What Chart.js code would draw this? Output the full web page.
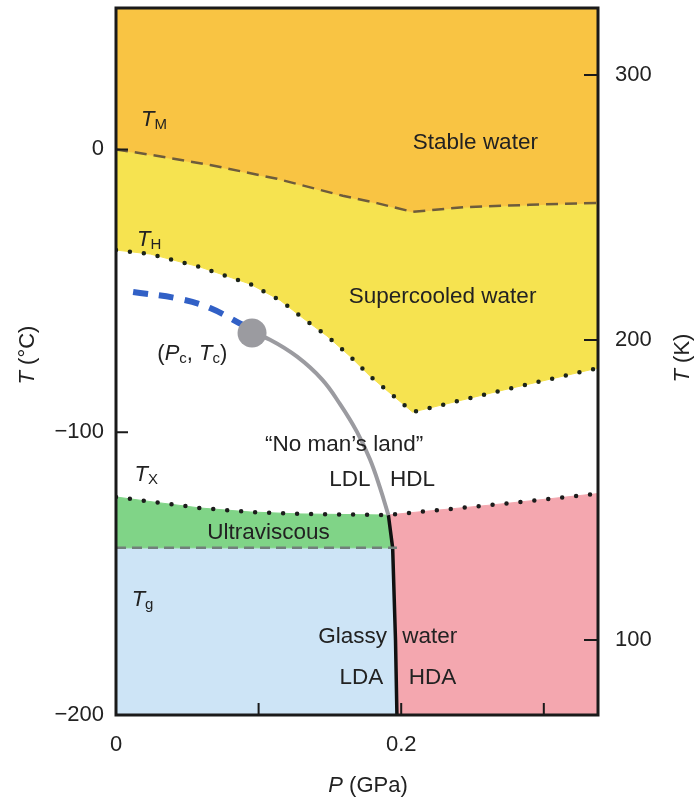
<!DOCTYPE html>
<html>
<head>
<meta charset="utf-8">
<script src="https://cdn.jsdelivr.net/npm/chart.js@4.4.1/dist/chart.umd.min.js"></script>
<style>
  html, body { margin: 0; padding: 0; background: #fff; }
  #wrap { width: 695px; height: 799px; position: relative; }
</style>
</head>
<body>
<div id="wrap"><canvas id="phaseChart"></canvas></div>
<script>
// Axis limits and tick labels
const pressureRange = [0, 0.338];          // GPa
const celsiusRange = [-200, 50];           // °C
const pressureTicks = [0, 0.1, 0.2, 0.3];
const pressureLabels = ['0', '', '0.2', ''];
const celsiusTicks = [-200, -100, 0];
const kelvinLabels = ['300', '200', '100'];
const kelvinTickAt = [26.3, -67.4, -173.5]; // °C where the figure puts the K ticks

// Boundaries, as [P (GPa), T (°C)]
const meltingLine = [[0, 0], [0.024, -1.9], [0.066, -5.5], [0.113, -10.4], [0.159, -16.4], [0.183, -19],
    [0.208, -22.1], [0.244, -20.4], [0.29, -19.6], [0.338, -18.9]];
const homogeneousLine = [[0, -35.6], [0.024, -37], [0.059, -41.6], [0.094, -47.6], [0.115, -53.3], [0.131, -59.6],
    [0.148, -66], [0.164, -73.1], [0.178, -80.1], [0.192, -86.1], [0.208, -92.9], [0.269, -85.4], [0.338, -77.3]];
const crystalLeft = [[0, -122.9], [0.031, -125], [0.059, -126.8], [0.094, -128.2], [0.129, -128.9], [0.191, -129.3]];
const crystalRight = [[0.191, -129.3], [0.204, -128.6], [0.264, -125.7], [0.338, -121.7]];
const glassLine = [[0, -140.9], [0.197, -140.9]];
const ldaHdaLine = [[0.191, -129.3], [0.194, -140.9], [0.196, -173.5], [0.197, -200]];
const widomLine = [[0.012, -50.4], [0.045, -52.9], [0.066, -56.1], [0.089, -62.1]];
const llptLine = [[0.0954, -64.9], [0.108, -67.3], [0.127, -73.3], [0.1446, -81.4], [0.157, -90],
    [0.169, -99.9], [0.178, -109.5], [0.185, -119.4], [0.191, -129.3]];
const criticalPoint = [[0.0954, -64.9]];

// Text placed in the diagram, [P, T] of the label centre
const regionLabels = [
    ['Stable water', 0.252, 2.3],
    ['Supercooled water', 0.229, -52.2],
    ['\u201CNo man\u2019s land\u201D', 0.160, -104.5],
    ['LDL', 0.164, -116.9],
    ['HDL', 0.208, -116.9],
    ['Ultraviscous', 0.107, -135.6],
    ['Glassy', 0.166, -172.4],
    ['water', 0.220, -172.4],
    ['LDA', 0.172, -186.9],
    ['HDA', 0.222, -186.9]
];
// symbols, [parts, P of left edge, T of centre]; 'i' italic, 's' subscript
const symbolLabels = [
    [[['T', 'i'], ['M', 's']], 0.0175, 11.1],
    [[['T', 'i'], ['H', 's']], 0.0147, -31.3],
    [[['T', 'i'], ['X', 's']], 0.013, -114.4],
    [[['T', 'i'], ['g', 's']], 0.011, -158.6],
    [[['(', ''], ['P', 'i'], ['c', 's'], [', ', ''], ['T', 'i'], ['c', 's'], [')', '']], 0.029, -71.6]
];

const FONT = '"Liberation Sans", Arial, Helvetica, sans-serif';
const TEXT = '#222';

const toXY = function(arr) {
    return arr.map(function(p) { return {x: p[0], y: p[1]}; });
};
const [pMin, pMax] = pressureRange;
const [tMin, tMax] = celsiusRange;

// closed regions built from the boundaries
const orangeRegion = meltingLine.concat([[pMax, tMax], [pMin, tMax]]);
const yellowRegion = meltingLine.concat(homogeneousLine.slice().reverse());
const greenRegion = crystalLeft.concat([ldaHdaLine[1], glassLine[0]]);
const blueRegion = [glassLine[0], ldaHdaLine[1], ldaHdaLine[2], ldaHdaLine[3], [pMin, tMin]];
const pinkRegion = crystalRight.concat([[pMax, tMin]], ldaHdaLine.slice().reverse());

function region(data, color) {
    return {
        data: toXY(data), fill: 'shape', backgroundColor: color, borderColor: color,
        borderWidth: 1, pointRadius: 0, tension: 0, order: 10
    };
}
function line(data, color, width, dash, cap) {
    return {
        data: toXY(data), fill: false, borderColor: color, borderWidth: width,
        borderDash: dash || [], borderCapStyle: cap || 'butt', pointRadius: 0, tension: 0, order: 2
    };
}

function drawParts(ctx, parts, x, y, align) {
    const fontFor = function(p) {
        return (p[1] === 'i' ? 'italic ' : '') + (p[1] === 's' ? 15 : 22) + 'px ' + FONT;
    };
    let w = 0;
    parts.forEach(function(p) { ctx.font = fontFor(p); w += ctx.measureText(p[0]).width; });
    let cx = align === 'center' ? x - w / 2 : x;
    const base = y + 8;
    ctx.textAlign = 'left';
    ctx.textBaseline = 'alphabetic';
    parts.forEach(function(p) {
        ctx.font = fontFor(p);
        ctx.fillText(p[0], cx, p[1] === 's' ? base + 3 : base);
        cx += ctx.measureText(p[0]).width;
    });
}

const decorPlugin = {
    id: 'decor',
    afterDatasetsDraw: function(chart) {
        const ctx = chart.ctx;
        const a = chart.chartArea;
        const xs = chart.scales.x, yl = chart.scales.y, yr = chart.scales.yK;
        ctx.save();
        ctx.fillStyle = TEXT;
        regionLabels.forEach(function(l) {
            ctx.font = '22.5px ' + FONT;
            ctx.textAlign = 'center';
            ctx.textBaseline = 'middle';
            ctx.fillText(l[0], xs.getPixelForValue(l[1]), yl.getPixelForValue(l[2]));
        });
        symbolLabels.forEach(function(l) {
            drawParts(ctx, l[0], xs.getPixelForValue(l[1]), yl.getPixelForValue(l[2]), 'left');
        });

        // inward tick marks
        ctx.strokeStyle = '#1a1a1a';
        ctx.lineWidth = 2;
        ctx.beginPath();
        yl.ticks.forEach(function(t) {
            const y = yl.getPixelForValue(t.value);
            ctx.moveTo(a.left, y); ctx.lineTo(a.left + 12, y);
        });
        yr.ticks.forEach(function(t) {
            const y = yr.getPixelForValue(t.value);
            ctx.moveTo(a.right, y); ctx.lineTo(a.right - 14, y);
        });
        xs.ticks.forEach(function(t) {
            const x = xs.getPixelForValue(t.value);
            ctx.moveTo(x, a.bottom); ctx.lineTo(x, a.bottom - 12);
        });
        ctx.stroke();

        // frame
        ctx.lineWidth = 3;
        ctx.strokeRect(a.left, a.top, a.right - a.left, a.bottom - a.top);
        ctx.restore();
    },
    afterDraw: function(chart) {
        const ctx = chart.ctx;
        ctx.save();
        ctx.fillStyle = TEXT;
        ctx.translate(26, 355);
        ctx.rotate(-Math.PI / 2);
        drawParts(ctx, [['T', 'i'], [' (\u00B0C)', '']], 0, 0, 'center');
        ctx.restore();
        ctx.save();
        ctx.fillStyle = TEXT;
        ctx.translate(681, 358);
        ctx.rotate(-Math.PI / 2);
        drawParts(ctx, [['T', 'i'], [' (K)', '']], 0, 0, 'center');
        ctx.restore();
        ctx.save();
        ctx.fillStyle = TEXT;
        drawParts(ctx, [['P', 'i'], [' (GPa)', '']], 368, 784, 'center');
        ctx.restore();
    }
};

document.addEventListener('DOMContentLoaded', function() {
    const tickFont = {family: FONT, size: 22};
    const noPadY = function(w) {
        return function(s) { s.width = w; s.paddingTop = 0; s.paddingBottom = 0; };
    };

    // smooth curves for the two lines that have no filled region next to them
    const widom = line(widomLine, '#3160c6', 6, [15, 11]);
    widom.tension = 0.4;
    const llpt = line(llptLine, '#9b9ba0', 4);
    llpt.tension = 0.4;

    new Chart(document.getElementById('phaseChart'), {
        type: 'line',
        data: {
            datasets: [
                region(orangeRegion, '#f9c443'),
                region(yellowRegion, '#f6e350'),
                region(greenRegion, '#80d487'),
                region(blueRegion, '#cde4f6'),
                region(pinkRegion, '#f4a7af'),
                line(meltingLine, '#6e5c3c', 2.5, [12, 7]),
                line(homogeneousLine, '#1c2418', 4.5, [0, 14], 'round'),
                line(crystalLeft.concat(crystalRight.slice(1)), '#1c1c1c', 4.5, [0, 14], 'round'),
                line(glassLine, '#71807a', 2.5, [10, 6]),
                widom,
                llpt,
                line(ldaHdaLine, '#111', 3.5),
                {
                    data: toXY(criticalPoint), showLine: false, pointRadius: 14.5,
                    pointBackgroundColor: '#9b9ba0', pointBorderWidth: 0, order: 1
                }
            ]
        },
        options: {
            responsive: true,
            maintainAspectRatio: false,
            animation: false,
            events: [],
            layout: {padding: {top: 8, left: 0, right: 0, bottom: 0}, autoPadding: false},
            plugins: {legend: {display: false}, tooltip: {enabled: false}},
            scales: {
                x: {
                    type: 'linear', min: pMin, max: pMax,
                    grid: {display: false, drawTicks: false},
                    border: {display: false},
                    afterBuildTicks: function(s) { s.ticks = pressureTicks.map(function(v) { return {value: v}; }); },
                    afterFit: function(s) { s.height = 84; s.paddingLeft = 0; s.paddingRight = 0; },
                    ticks: {
                        autoSkip: false, maxRotation: 0, padding: 17, color: TEXT, font: tickFont,
                        callback: function(v, i) { return pressureLabels[i]; }
                    }
                },
                y: {
                    type: 'linear', position: 'left', min: tMin, max: tMax,
                    grid: {display: false, drawTicks: false},
                    border: {display: false},
                    afterBuildTicks: function(s) { s.ticks = celsiusTicks.map(function(v) { return {value: v}; }); },
                    afterFit: noPadY(116),
                    ticks: {
                        autoSkip: false, padding: 12, color: TEXT, font: tickFont,
                        callback: function(v) { return String(v).replace('-', '\u2212'); }
                    }
                },
                yK: {
                    type: 'linear', position: 'right', min: tMin, max: tMax,
                    grid: {display: false, drawTicks: false},
                    border: {display: false},
                    afterBuildTicks: function(s) { s.ticks = kelvinTickAt.map(function(v) { return {value: v}; }); },
                    afterFit: noPadY(97),
                    ticks: {
                        autoSkip: false, padding: 17, color: TEXT, font: tickFont,
                        callback: function(v, i) { return kelvinLabels[i]; }
                    }
                }
            }
        },
        plugins: [decorPlugin]
    });
});
</script>
</body>
</html>
